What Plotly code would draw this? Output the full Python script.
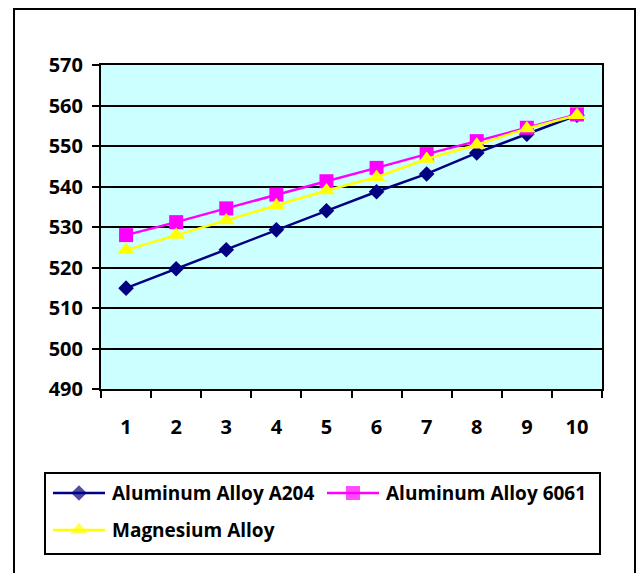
import plotly.graph_objects as go

categories = ["1", "2", "3", "4", "5", "6", "7", "8", "9", "10"]
a204 = [514.9, 519.7, 524.4, 529.3, 534.0, 538.7, 543.1, 548.3, 552.9, 557.6]
al6061 = [528.0, 531.2, 534.6, 538.0, 541.3, 544.6, 548.0, 551.2, 554.5, 557.8]
mg = [524.3, 528.0, 531.6, 535.3, 539.0, 542.3, 546.8, 550.3, 554.3, 557.6]
series_names = ["Aluminum Alloy A204", "Aluminum Alloy 6061", "Magnesium Alloy"]
series_values = [a204, al6061, mg]

colors = ["#000080", "#FF00FF", "#FFFF00"]
symbols = ["diamond", "square", "triangle-up"]
msizes = [12, 14, 15]

FONT = "Open Sans"
W, H = 640, 573
PL, PR, PT, PB = 101, 602, 65, 389  # plot area in pixels

fig = go.Figure()
for name, vals, c, s, ms in zip(series_names, series_values, colors, symbols, msizes):
    fig.add_trace(go.Scatter(x=categories, y=vals, name=name, mode="lines+markers",
                             line=dict(color=c, width=2.5),
                             marker=dict(symbol=s, size=ms, color=c, line=dict(width=0)),
                             xaxis="x", yaxis="y", showlegend=False))

# custom legend drawn on a pixel-space overlay axis
leg_pos = [(53, 493), (327, 493), (53, 530)]
for (lx, ly), name, c, s, ms in zip(leg_pos, series_names, colors, symbols, msizes):
    fig.add_trace(go.Scatter(x=[lx, lx + 26, lx + 52], y=[ly, ly, ly], mode="lines+markers",
                             line=dict(color=c, width=2.5),
                             marker=dict(symbol=s, size=[0, ms, 0], color=c, line=dict(width=0)),
                             xaxis="x2", yaxis="y2", showlegend=False, hoverinfo="skip"))
    fig.add_annotation(x=lx + 57, y=ly, xref="x2", yref="y2", text=name, showarrow=False,
                       xanchor="left", yanchor="middle",
                       font=dict(family=FONT, size=19, color="black", weight="bold"))

axis_font = dict(family=FONT, size=20, color="black", weight="bold")
fig.update_layout(
    template="none",
    width=W, height=H,
    margin=dict(l=0, r=0, t=0, b=0, autoexpand=False),
    paper_bgcolor="white",
    plot_bgcolor="rgba(0,0,0,0)",
    showlegend=False,
    xaxis=dict(
        domain=[PL / W, PR / W], automargin=False,
        type="category", tickson="boundaries", ticks="outside", ticklen=7,
        tickwidth=2, tickcolor="black", showline=True, linecolor="black", linewidth=2,
        mirror=True, showgrid=False, tickfont=axis_font,
        range=[-0.5, 9.5], ticklabelstandoff=19, anchor="y",
    ),
    yaxis=dict(
        domain=[(H - PB) / H, (H - PT) / H], automargin=False,
        range=[490, 570], dtick=10, ticks="outside", ticklen=7, tickwidth=2,
        tickcolor="black", showline=True, linecolor="black", linewidth=2, mirror=True,
        showgrid=True, gridcolor="black", gridwidth=2, tickfont=axis_font,
        zeroline=False, ticklabelstandoff=5, anchor="x",
    ),
    xaxis2=dict(domain=[0, 1], range=[0, W], visible=False, anchor="y2",
                fixedrange=True, automargin=False),
    yaxis2=dict(domain=[0, 1], range=[H, 0], visible=False, anchor="x2",
                fixedrange=True, automargin=False),
    shapes=[
        dict(type="rect", xref="x domain", yref="y domain", x0=0, x1=1, y0=0, y1=1,
             fillcolor="#CCFFFF", line=dict(width=0), layer="below"),
        dict(type="rect", xref="x2", yref="y2", x0=14, x1=635, y0=9, y1=580,
             line=dict(color="black", width=2), fillcolor="rgba(0,0,0,0)", layer="below"),
        dict(type="rect", xref="x2", yref="y2", x0=45, x1=600, y0=473, y1=554,
             line=dict(color="black", width=2), fillcolor="rgba(0,0,0,0)", layer="below"),
    ],
)

fig.write_html("out.html")
